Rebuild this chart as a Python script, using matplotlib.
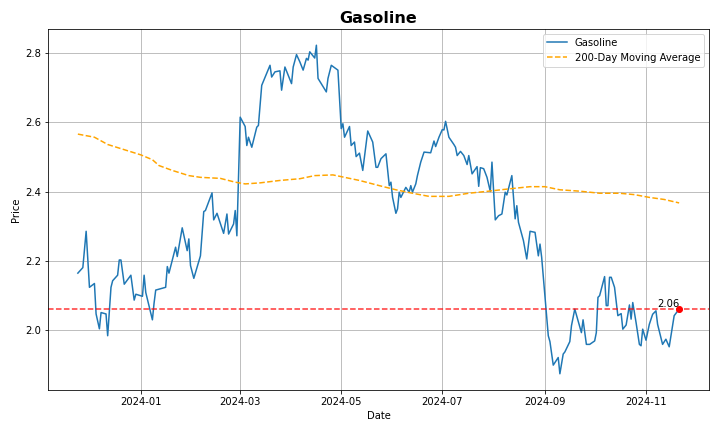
import numpy as np
import pandas as pd
import matplotlib
matplotlib.use("Agg")
import matplotlib.pyplot as plt

# Gasoline daily price
price_dates = [
    "2023-11-24", "2023-11-27", "2023-11-29", "2023-12-01", "2023-12-04", "2023-12-05",
    "2023-12-07", "2023-12-08", "2023-12-11", "2023-12-12", "2023-12-14", "2023-12-15",
    "2023-12-18", "2023-12-19", "2023-12-20", "2023-12-22", "2023-12-26", "2023-12-28",
    "2023-12-29", "2024-01-02", "2024-01-03", "2024-01-04", "2024-01-08", "2024-01-09",
    "2024-01-10", "2024-01-16", "2024-01-17", "2024-01-18", "2024-01-22", "2024-01-23",
    "2024-01-26", "2024-01-29", "2024-01-30", "2024-01-31", "2024-02-02", "2024-02-06",
    "2024-02-08", "2024-02-09", "2024-02-13", "2024-02-14", "2024-02-16", "2024-02-20",
    "2024-02-22", "2024-02-23", "2024-02-26", "2024-02-27", "2024-02-28", "2024-03-01",
    "2024-03-04", "2024-03-05", "2024-03-06", "2024-03-08", "2024-03-11", "2024-03-12",
    "2024-03-14", "2024-03-19", "2024-03-20", "2024-03-22", "2024-03-25", "2024-03-26",
    "2024-03-28", "2024-04-01", "2024-04-02", "2024-04-04", "2024-04-06", "2024-04-08",
    "2024-04-10", "2024-04-11", "2024-04-12", "2024-04-15", "2024-04-16", "2024-04-17",
    "2024-04-22", "2024-04-23", "2024-04-25", "2024-04-29", "2024-05-01", "2024-05-02",
    "2024-05-03", "2024-05-06", "2024-05-07", "2024-05-09", "2024-05-10", "2024-05-12",
    "2024-05-14", "2024-05-17", "2024-05-20", "2024-05-22", "2024-05-23", "2024-05-25",
    "2024-05-28", "2024-05-30", "2024-05-31", "2024-06-01", "2024-06-03", "2024-06-04",
    "2024-06-05", "2024-06-06", "2024-06-09", "2024-06-11", "2024-06-12", "2024-06-13",
    "2024-06-15", "2024-06-16", "2024-06-18", "2024-06-20", "2024-06-24", "2024-06-26",
    "2024-06-27", "2024-06-29", "2024-07-01", "2024-07-02", "2024-07-03", "2024-07-05",
    "2024-07-08", "2024-07-09", "2024-07-10", "2024-07-12", "2024-07-14", "2024-07-16",
    "2024-07-17", "2024-07-19", "2024-07-22", "2024-07-23", "2024-07-24", "2024-07-26",
    "2024-07-28", "2024-07-30", "2024-07-31", "2024-08-02", "2024-08-04", "2024-08-06",
    "2024-08-08", "2024-08-09", "2024-08-12", "2024-08-14", "2024-08-15", "2024-08-16",
    "2024-08-19", "2024-08-21", "2024-08-23", "2024-08-26", "2024-08-28", "2024-08-29",
    "2024-08-30", "2024-09-03", "2024-09-04", "2024-09-06", "2024-09-09", "2024-09-10",
    "2024-09-12", "2024-09-13", "2024-09-16", "2024-09-17", "2024-09-19", "2024-09-21",
    "2024-09-23", "2024-09-24", "2024-09-26", "2024-09-28", "2024-10-01", "2024-10-02",
    "2024-10-03", "2024-10-04", "2024-10-07", "2024-10-08", "2024-10-09", "2024-10-10",
    "2024-10-11", "2024-10-13", "2024-10-15", "2024-10-17", "2024-10-18", "2024-10-20",
    "2024-10-22", "2024-10-23", "2024-10-24", "2024-10-26", "2024-10-28", "2024-10-29",
    "2024-10-30", "2024-11-01", "2024-11-03", "2024-11-05", "2024-11-07", "2024-11-08",
    "2024-11-11", "2024-11-13", "2024-11-15", "2024-11-18", "2024-11-21",
]
price_values = [
    2.164, 2.180, 2.285, 2.123, 2.134, 2.046,
    2.003, 2.050, 2.046, 1.983, 2.123, 2.142,
    2.158, 2.202, 2.202, 2.132, 2.158, 2.086,
    2.103, 2.097, 2.158, 2.108, 2.029, 2.077,
    2.115, 2.123, 2.183, 2.164, 2.239, 2.212,
    2.295, 2.229, 2.263, 2.186, 2.149, 2.214,
    2.342, 2.345, 2.396, 2.318, 2.337, 2.279,
    2.335, 2.277, 2.306, 2.345, 2.272, 2.615,
    2.588, 2.533, 2.557, 2.528, 2.586, 2.591,
    2.707, 2.765, 2.731, 2.746, 2.749, 2.693,
    2.760, 2.712, 2.760, 2.796, 2.775, 2.751,
    2.785, 2.780, 2.804, 2.786, 2.823, 2.727,
    2.688, 2.727, 2.765, 2.751, 2.582, 2.596,
    2.557, 2.588, 2.533, 2.543, 2.501, 2.511,
    2.461, 2.575, 2.543, 2.470, 2.470, 2.495,
    2.509, 2.417, 2.427, 2.383, 2.337, 2.350,
    2.398, 2.383, 2.412, 2.398, 2.417, 2.398,
    2.422, 2.446, 2.485, 2.514, 2.512, 2.546,
    2.530, 2.557, 2.579, 2.578, 2.603, 2.557,
    2.536, 2.528, 2.504, 2.516, 2.504, 2.478,
    2.504, 2.451, 2.472, 2.415, 2.469, 2.466,
    2.441, 2.400, 2.485, 2.318, 2.330, 2.335,
    2.398, 2.390, 2.446, 2.321, 2.359, 2.311,
    2.258, 2.205, 2.285, 2.282, 2.214, 2.248,
    2.210, 1.983, 1.966, 1.898, 1.920, 1.873,
    1.930, 1.936, 1.966, 2.012, 2.060, 2.026,
    1.992, 2.029, 1.958, 1.958, 1.968, 1.992,
    2.094, 2.099, 2.154, 2.070, 2.070, 2.152,
    2.152, 2.123, 2.041, 2.047, 2.002, 2.014,
    2.072, 2.031, 2.079, 2.021, 1.958, 1.954,
    2.002, 1.970, 2.016, 2.045, 2.055, 2.016,
    1.958, 1.973, 1.951, 2.041, 2.060,
]

# 200-day moving average (computed on a longer history, only the shown window)
ma_dates = [
    "2023-11-24", "2023-12-04", "2023-12-12", "2023-12-22", "2024-01-01", "2024-01-08",
    "2024-01-12", "2024-01-20", "2024-01-30", "2024-02-06", "2024-02-18", "2024-02-27",
    "2024-03-04", "2024-03-13", "2024-03-25", "2024-04-06", "2024-04-15", "2024-04-26",
    "2024-05-03", "2024-05-12", "2024-05-24", "2024-06-03", "2024-06-13", "2024-06-23",
    "2024-07-05", "2024-07-17", "2024-07-29", "2024-08-11", "2024-08-23", "2024-09-01",
    "2024-09-10", "2024-09-22", "2024-10-04", "2024-10-16", "2024-10-25", "2024-11-03",
    "2024-11-12", "2024-11-21",
]
ma_values = [
    2.566, 2.557, 2.536, 2.521, 2.506, 2.492,
    2.475, 2.461, 2.446, 2.441, 2.438, 2.427,
    2.422, 2.425, 2.432, 2.437, 2.446, 2.448,
    2.441, 2.432, 2.417, 2.405, 2.395, 2.386,
    2.386, 2.395, 2.401, 2.408, 2.414, 2.414,
    2.405, 2.401, 2.395, 2.395, 2.391, 2.383,
    2.377, 2.367,
]

price = pd.Series(price_values, index=pd.to_datetime(price_dates))
ma = pd.Series(ma_values, index=pd.to_datetime(ma_dates))
last_date = price.index[-1]
last_price = price.iloc[-1]

fig, ax = plt.subplots(figsize=(10, 6), dpi=72)
ax.plot(price.index, price.values, label="Gasoline")
ax.plot(ma.index, ma.values, label="200-Day Moving Average", color="orange", linestyle="--")
ax.axhline(last_price, color="red", linestyle="--", alpha=0.8, linewidth=1.5)
ax.scatter([last_date], [last_price], color="red", zorder=5)
ax.text(last_date, last_price, f"{last_price:.2f}", ha="right", va="bottom", fontsize=10)

ax.set_title("Gasoline", fontsize=16, fontweight="bold")
ax.set_xlabel("Date")
ax.set_ylabel("Price")
ax.grid(True)
ax.legend(loc="upper right")

plt.tight_layout()
plt.savefig("out.png", dpi=72)
